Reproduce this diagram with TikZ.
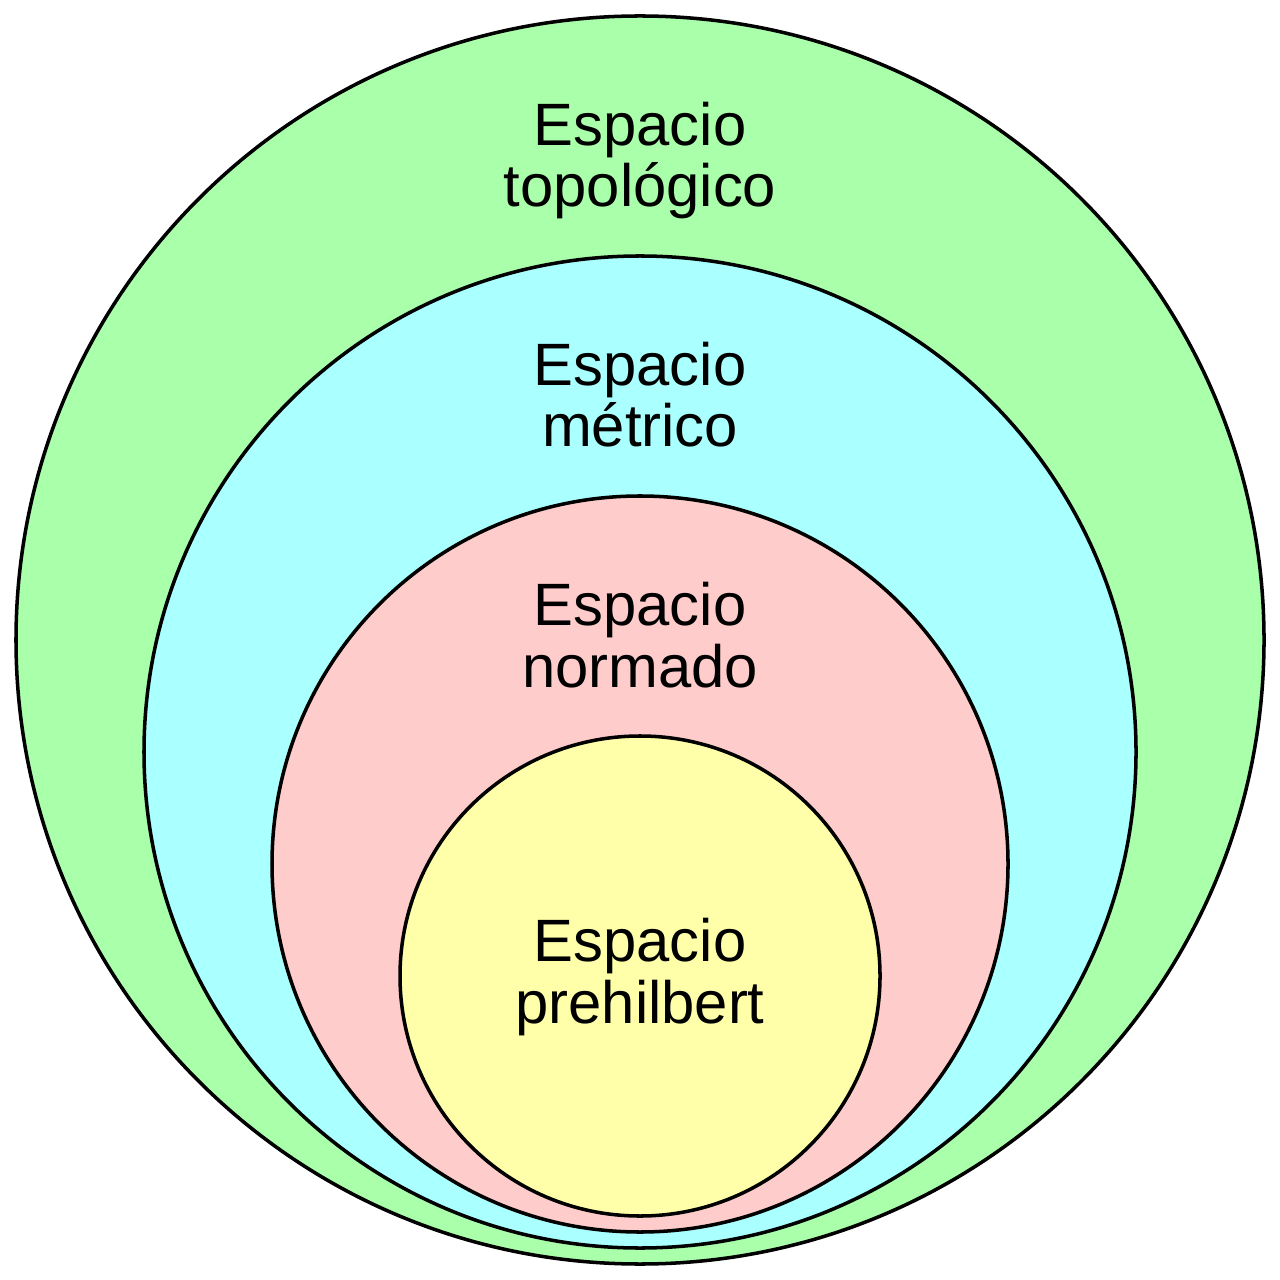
\documentclass[tikz,border=0pt]{standalone}
\usepackage{fontspec}
\setmainfont{Liberation Sans}

\definecolor{topocol}{HTML}{AAFFAA}
\definecolor{metrcol}{HTML}{AAFFFF}
\definecolor{normcol}{HTML}{FFCCCC}
\definecolor{prehcol}{HTML}{FFFFAA}

\begin{document}
\begin{tikzpicture}[x=0.01cm,y=-0.01cm,
        space/.style={draw=black, line width=1pt},
        spacename/.style={align=center, anchor=base, inner sep=0pt,
                font=\fontsize{17}{17.4}\selectfont}]
        \useasboundingbox (0,0) rectangle (1280,1280);

        \draw[space, fill=topocol] (640,640) circle[radius=624];
        \draw[space, fill=metrcol] (640,752) circle[radius=496];
        \draw[space, fill=normcol] (640,864) circle[radius=368];
        \draw[space, fill=prehcol] (640,976) circle[radius=240];

        \node[spacename] (topo) at (640,207) {Espacio\\topológico};
        \node[spacename] (metr) at (640,447) {Espacio\\métrico};
        \node[spacename] (norm) at (640,687) {Espacio\\normado};
        \node[spacename] (preh) at (640,1023) {Espacio\\prehilbert};

        \end{tikzpicture}
\end{document}
